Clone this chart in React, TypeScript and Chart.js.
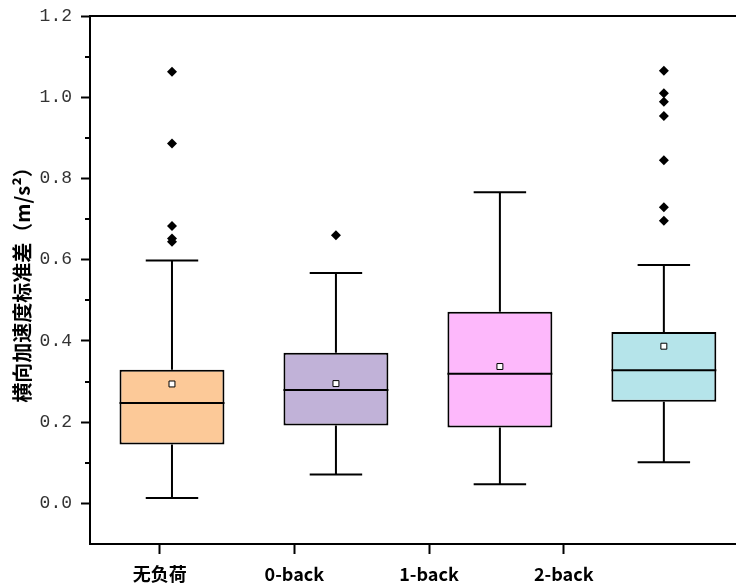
import { useEffect, useRef } from 'react';
import { Chart, registerables } from 'chart.js';

Chart.register(...registerables);

const categories = ['无负荷', '0-back', '1-back', '2-back'];
const positions = [1, 2, 3, 4];
const whiskerLow = [0.013, 0.071, 0.047, 0.101];
const q1 = [0.145, 0.192, 0.187, 0.25];
const medians = [0.247, 0.279, 0.319, 0.328];
const q3 = [0.329, 0.371, 0.472, 0.422];
const whiskerHigh = [0.598, 0.567, 0.766, 0.587];
const means = [0.294, 0.295, 0.337, 0.387];
const outliers = [
  [1.063, 0.886, 0.683, 0.652, 0.644],
  [0.66],
  [],
  [1.065, 1.01, 0.989, 0.954, 0.845, 0.729, 0.696],
];
const yTicks = [0, 0.2, 0.4, 0.6, 0.8, 1.0, 1.2];
const yMinorTicks = [0.1, 0.3, 0.5, 0.7, 0.9, 1.1];
const boxColors = ['#FCC998', '#C1B2D8', '#FDB8FB', '#B5E4EA'];
const yTitle = '横向加速度标准差（m/s²）';

const zeroPad = (scale: any) => {
  scale.paddingTop = 0;
  scale.paddingBottom = 0;
  scale.paddingLeft = 0;
  scale.paddingRight = 0;
};

const boxPlugin = {
  id: 'boxParts',
  beforeDatasetsDraw(chart: any) {
    const ctx = chart.ctx;
    const ys = chart.scales.y;
    const meta = chart.getDatasetMeta(0);
    ctx.save();
    ctx.strokeStyle = '#000';
    ctx.lineWidth = 2;
    meta.data.forEach((el: any, i: number) => {
      const x = el.x;
      const half = el.width / 4;
      const yHi = ys.getPixelForValue(whiskerHigh[i]);
      const yLo = ys.getPixelForValue(whiskerLow[i]);
      const yQ3 = ys.getPixelForValue(q3[i]);
      const yQ1 = ys.getPixelForValue(q1[i]);
      ctx.beginPath();
      ctx.moveTo(x, yQ3);
      ctx.lineTo(x, yHi);
      ctx.moveTo(x - half, yHi);
      ctx.lineTo(x + half, yHi);
      ctx.moveTo(x, yQ1);
      ctx.lineTo(x, yLo);
      ctx.moveTo(x - half, yLo);
      ctx.lineTo(x + half, yLo);
      ctx.stroke();
    });
    ctx.restore();
  },
  afterDatasetDraw(chart: any, args: any) {
    if (args.index !== 0) return;
    const ctx = chart.ctx;
    const ys = chart.scales.y;
    const meta = chart.getDatasetMeta(0);
    ctx.save();
    ctx.strokeStyle = '#000';
    ctx.lineWidth = 2;
    meta.data.forEach((el: any, i: number) => {
      const y = ys.getPixelForValue(medians[i]);
      ctx.beginPath();
      ctx.moveTo(el.x - el.width / 2, y);
      ctx.lineTo(el.x + el.width / 2, y);
      ctx.stroke();
    });
    ctx.restore();
  },
  afterDraw(chart: any) {
    const ctx = chart.ctx;
    const ys = chart.scales.y;
    const area = chart.chartArea;
    ctx.save();
    ctx.strokeStyle = '#000';
    ctx.lineWidth = 2;
    ctx.beginPath();
    ctx.moveTo(area.left - 1, area.top);
    ctx.lineTo(area.right, area.top);
    yMinorTicks.forEach((v) => {
      const y = Math.round(ys.getPixelForValue(v));
      ctx.moveTo(area.left, y);
      ctx.lineTo(area.left - 5, y);
    });
    ctx.stroke();
    ctx.restore();
  },
};

export default function App() {
  const ref = useRef<HTMLCanvasElement>(null);
  useEffect(() => {
    if (!ref.current) return;
    const outlierPoints: { x: number; y: number }[] = [];
    outliers.forEach((arr, i) => arr.forEach((v) => outlierPoints.push({ x: positions[i], y: v })));
    const chart = new Chart(ref.current, {
      type: 'bar',
      data: {
        datasets: [
          {
            type: 'bar',
            data: positions.map((p, i) => ({ x: p, y: [q1[i], q3[i]] })) as any,
            backgroundColor: boxColors,
            borderColor: '#000',
            borderWidth: 2,
            borderSkipped: false,
            barPercentage: 0.64,
            categoryPercentage: 1,
            xAxisID: 'x',
            yAxisID: 'y',
            order: 3,
          } as any,
          {
            type: 'scatter',
            data: outlierPoints,
            pointStyle: 'rectRot',
            pointRadius: 5,
            backgroundColor: '#000',
            borderColor: '#000',
            borderWidth: 0,
            xAxisID: 'x',
            yAxisID: 'y',
            order: 1,
          } as any,
          {
            type: 'scatter',
            data: positions.map((p, i) => ({ x: p, y: means[i] })),
            pointStyle: 'rect',
            pointRadius: 4.2,
            backgroundColor: '#fff',
            borderColor: '#000',
            borderWidth: 1,
            xAxisID: 'x',
            yAxisID: 'y',
            order: 0,
          } as any,
        ],
      },
      options: {
        responsive: false,
        animation: false,
        layout: { autoPadding: false, padding: { top: 16, right: 0, bottom: 0, left: 0 } },
        plugins: { legend: { display: false }, tooltip: { enabled: false } },
        scales: {
          x: {
            type: 'linear',
            display: false,
            offset: false,
            min: 0.5,
            max: 4.44,
            afterBuildTicks: (scale: any) => {
              scale.ticks = positions.map((v) => ({ value: v }));
            },
            afterFit: zeroPad,
          },
          xt: {
            type: 'linear',
            position: 'bottom',
            offset: false,
            min: 0.4825,
            max: 5.279,
            afterBuildTicks: (scale: any) => {
              scale.ticks = positions.map((v) => ({ value: v }));
            },
            afterFit: (scale: any) => {
              scale.height = 42;
              zeroPad(scale);
            },
            grid: {
              drawOnChartArea: false,
              drawTicks: true,
              tickLength: 10,
              tickWidth: 2,
              tickColor: '#000',
              offset: false,
            },
            border: { display: true, color: '#000', width: 2 },
            ticks: {
              padding: 9,
              color: '#000',
              maxRotation: 0,
              autoSkip: false,
              font: { family: "'Noto Sans CJK SC', sans-serif", size: 18, weight: 'bold' },
              callback: (v: any) => categories[Math.round(Number(v)) - 1] ?? '',
            },
          },
          y: {
            type: 'linear',
            position: 'left',
            min: -0.1,
            max: 1.2,
            afterBuildTicks: (scale: any) => {
              scale.ticks = yTicks.map((v) => ({ value: v }));
            },
            afterFit: (scale: any) => {
              scale.width = 90;
              zeroPad(scale);
            },
            grid: {
              drawOnChartArea: false,
              drawTicks: true,
              tickLength: 9,
              tickWidth: 2,
              tickColor: '#000',
            },
            border: { display: true, color: '#000', width: 2 },
            ticks: {
              padding: 9,
              color: '#333',
              font: { family: "'Liberation Mono', monospace", size: 18 },
              callback: (v: any) => Number(v).toFixed(1),
            },
            title: {
              display: true,
              text: yTitle,
              color: '#000',
              padding: { top: 10, bottom: 0 },
              font: { family: "'Noto Sans CJK SC', sans-serif", size: 20, weight: 'bold' },
            },
          },
        },
      },
      plugins: [boxPlugin],
    });
    return () => chart.destroy();
  }, []);
  return (
    <div style={{ position: 'absolute', left: 0, top: 0, width: 736, height: 586, background: '#fff', overflow: 'hidden' }}>
      <canvas ref={ref} width={736} height={586} style={{ display: 'block' }} />
    </div>
  );
}
